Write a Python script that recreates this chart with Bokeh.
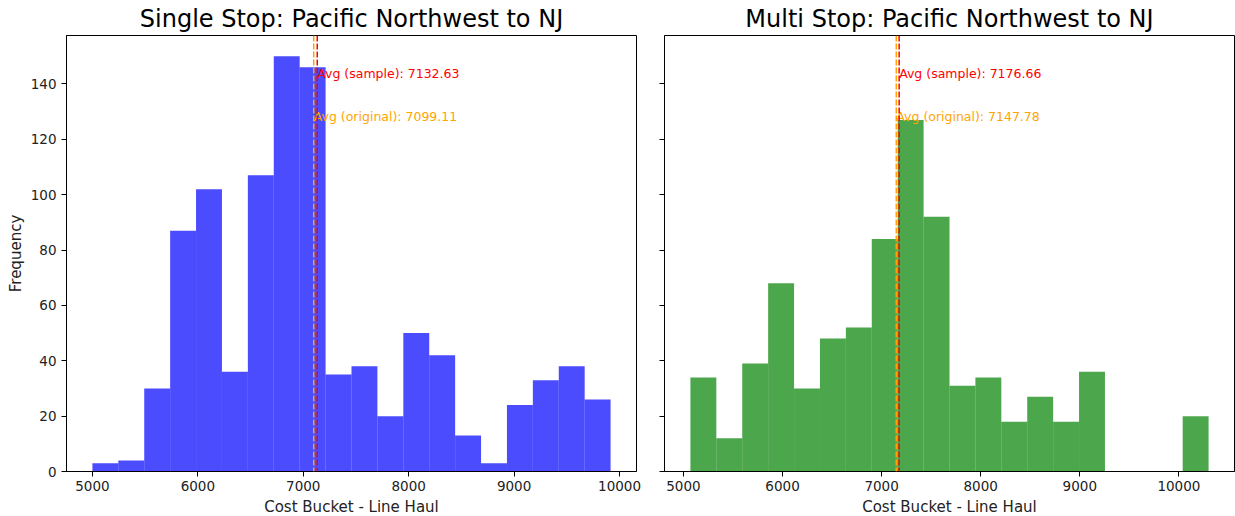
import numpy as np
from bokeh.plotting import figure
from bokeh.layouts import row
from bokeh.models import Range1d, FixedTicker, Span, ColumnDataSource
from bokeh.core.properties import value
from bokeh.embed import file_html
from bokeh.resources import INLINE

# ---- data -------------------------------------------------------------
single_title = "Single Stop: Pacific Northwest to NJ"
multi_title = "Multi Stop: Pacific Northwest to NJ"

# 20 equal-width bins between the min and max line-haul cost
single_range = (5000.0, 9915.0)
single_counts = [3, 4, 30, 87, 102, 36, 107, 150, 146, 35,
                 38, 20, 50, 42, 13, 3, 24, 33, 38, 26]
single_avg_sample = 7132.63
single_avg_original = 7099.11

multi_range = (5070.0, 10300.0)
multi_counts = [34, 12, 39, 68, 30, 48, 52, 84, 127, 92,
                31, 34, 18, 27, 18, 36, 0, 0, 0, 20]
multi_avg_sample = 7176.66
multi_avg_original = 7147.78

x_ticks = [5000, 6000, 7000, 8000, 9000, 10000]
y_ticks = [0, 20, 40, 60, 80, 100, 120, 140]

FONT = "DejaVu Sans"
y_top = max(max(single_counts), max(multi_counts)) * 1.05


def make_panel(title, rng, counts, avg_sample, avg_original, color,
               show_ylabels, border_left, border_right, frame_w):
    edges = np.linspace(rng[0], rng[1], len(counts) + 1)
    span = rng[1] - rng[0]
    p = figure(
        width=frame_w + border_left + border_right, height=516,
        frame_width=frame_w, frame_height=436,
        x_range=Range1d(rng[0] - 0.05 * span, rng[1] + 0.05 * span),
        y_range=Range1d(0, y_top),
        output_backend="svg", toolbar_location=None,
        min_border_left=border_left, min_border_right=border_right,
        min_border_top=35, min_border_bottom=45,
    )
    p.title.text = title
    p.title.align = "center"
    p.title.text_font = FONT
    p.title.text_font_size = "24px"
    p.title.text_font_style = "normal"
    p.title.text_color = "black"
    p.title.standoff = 5

    p.quad(left=edges[:-1], right=edges[1:], top=counts, bottom=0,
           fill_color=color, fill_alpha=0.7, line_color=None)

    p.add_layout(Span(location=avg_original, dimension="height",
                      line_color="orange", line_dash="6 2", line_width=1.5))
    p.add_layout(Span(location=avg_sample, dimension="height",
                      line_color="red", line_dash="6 2", line_width=1.5))

    src = ColumnDataSource(dict(
        x=[avg_sample, avg_original],
        y=[y_top * 0.9, y_top * 0.8],
        t=[f"Avg (sample): {avg_sample:.2f}",
           f"Avg (original): {avg_original:.2f}"],
        c=["red", "orange"],
    ))
    p.text(x="x", y="y", text="t", text_color="c", source=src,
           text_font=value(FONT), text_font_size="12.5px",
           text_align="left", text_baseline="alphabetic", y_offset=-6)

    p.xgrid.visible = False
    p.ygrid.visible = False
    p.outline_line_color = "black"
    p.outline_line_width = 1
    p.background_fill_color = "white"
    p.border_fill_color = "white"

    for ax in (p.xaxis[0], p.yaxis[0]):
        ax.axis_line_color = "black"
        ax.major_tick_line_color = "black"
        ax.major_tick_out = 5
        ax.major_tick_in = 0
        ax.minor_tick_line_color = None
        ax.major_label_text_font = FONT
        ax.major_label_text_font_size = "13.5px"
        ax.major_label_text_color = "#222222"
        ax.axis_label_text_font = FONT
        ax.axis_label_text_font_size = "15px"
        ax.axis_label_text_font_style = "normal"
        ax.axis_label_text_color = "#222222"

    p.xaxis.ticker = FixedTicker(ticks=x_ticks)
    p.yaxis.ticker = FixedTicker(ticks=y_ticks)
    p.xaxis.axis_label = "Cost Bucket - Line Haul"
    p.xaxis.axis_label_standoff = 4
    p.xaxis.major_label_standoff = 4
    if show_ylabels:
        p.yaxis.axis_label = "Frequency"
        p.yaxis.axis_label_standoff = 3
    else:
        # shared y scale: tick marks only, no labels
        p.yaxis.major_label_overrides = {t: " " for t in y_ticks}
        p.yaxis.major_label_standoff = 0
    return p


p1 = make_panel(single_title, single_range, single_counts,
                single_avg_sample, single_avg_original, "blue",
                True, 66, 14, 570)
p2 = make_panel(multi_title, multi_range, multi_counts,
                multi_avg_sample, multi_avg_original, "green",
                False, 14, 1, 570)

layout = row(p1, p2)
open("out.html", "w").write(file_html(layout, INLINE))
